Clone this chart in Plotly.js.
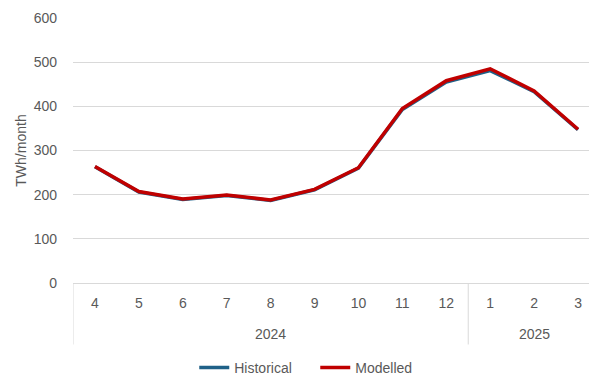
<!DOCTYPE html>
<html><head><meta charset="utf-8">
<script src="https://cdn.plot.ly/plotly-3.0.1.min.js"></script>
<style>html,body{margin:0;padding:0;background:#fff}#chart{width:589px;height:376px}</style>
</head><body><div id="chart"></div>
<script>
const years = ["2024","2024","2024","2024","2024","2024","2024","2024","2024","2025","2025","2025"];
const months = ["4","5","6","7","8","9","10","11","12","1","2","3"];
const historical = [263, 206, 189, 198, 187, 211, 260, 393, 455, 481, 433, 347];
const modelled = [264, 207, 190, 199, 188, 212, 261, 395, 458, 485, 435, 348];

const idx = months.map((m, i) => i);
const font = {family:'Liberation Sans, Arial, sans-serif', size:14, color:'#595959'};

const traces = [
  {x:idx, y:historical, type:'scatter', mode:'lines', name:'Historical',
   line:{color:'#1f6188', width:3.5}},
  {x:idx, y:modelled, type:'scatter', mode:'lines', name:'Modelled',
   line:{color:'#c00000', width:3.5}}
];

// year groups: annotations centred on each group, dividers at group starts
const groups = [];
years.forEach((y, i) => {
  if (!groups.length || groups[groups.length-1].year !== y) groups.push({year:y, start:i, end:i});
  else groups[groups.length-1].end = i;
});
const annotations = groups.map(g => ({
  x:(g.start + g.end)/2, xref:'x', y:-0.192, yref:'paper', yanchor:'middle',
  text:g.year, showarrow:false, font:font
}));
const shapes = groups.map(g => ({
  type:'line', xref:'x', yref:'paper', x0:g.start - 0.5, x1:g.start - 0.5, y0:0, y1:-0.232,
  line:{color:'#d9d9d9', width:1}
}));

const layout = {
  width:589, height:376,
  margin:{l:73, r:0, t:18, b:93},
  paper_bgcolor:'#fff', plot_bgcolor:'#fff',
  font:font,
  showlegend:true,
  legend:{orientation:'h', x:0.235, xanchor:'left', yref:'container', y:0.0213, yanchor:'middle',
    font:font, traceorder:'normal', entrywidth:76},
  xaxis:{range:[-0.5, 11.25], tickvals:idx, ticktext:months, showgrid:false,
    showline:true, linecolor:'#d9d9d9', linewidth:1, zeroline:false, tickfont:font, ticks:'',
    ticklabelstandoff:7},
  yaxis:{range:[0,600], dtick:100, showgrid:true, gridcolor:'#d9d9d9', gridwidth:1, zeroline:false,
    tickfont:font, ticks:'', ticklabelstandoff:15, title:{text:'TWh/month', font:font, standoff:3}},
  annotations:annotations,
  shapes:shapes
};
Plotly.newPlot('chart', traces, layout, {displayModeBar:false, staticPlot:true});
</script></body></html>
